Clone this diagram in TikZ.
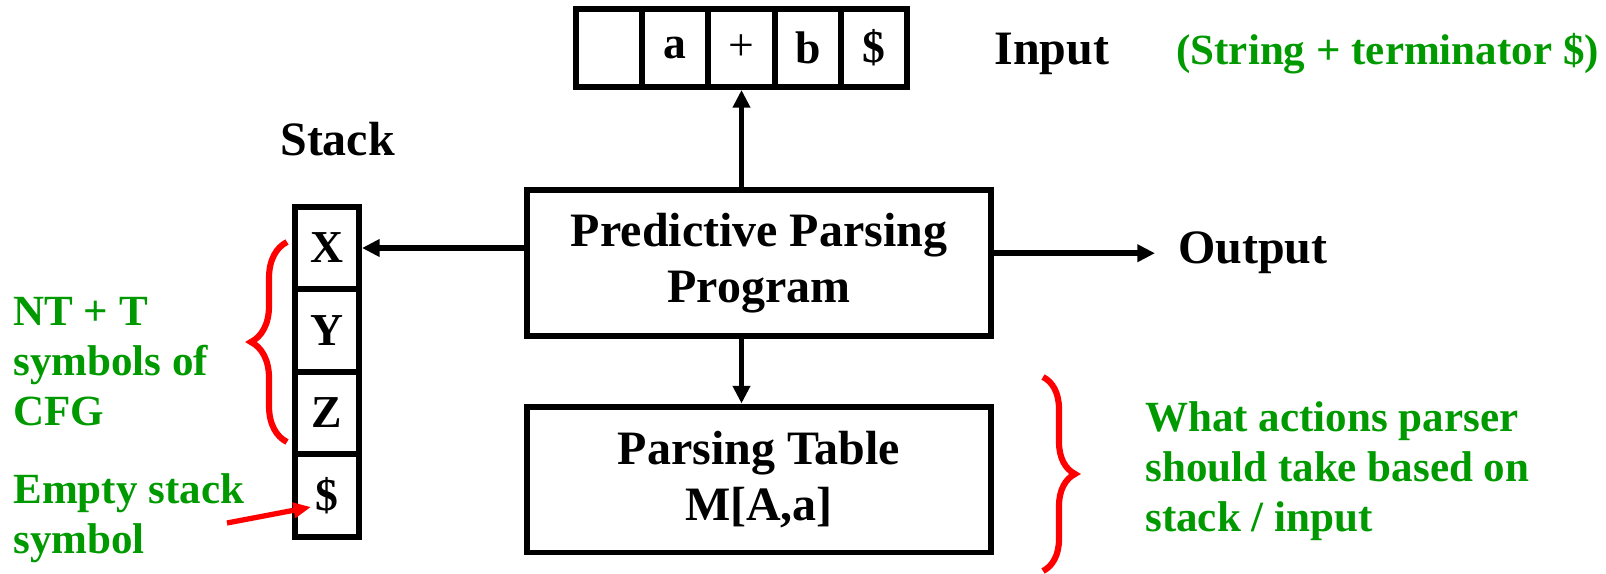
\documentclass[tikz,border=0pt]{standalone}
\usepackage{fontspec}
\setmainfont{Liberation Serif}
\usetikzlibrary{arrows.meta,positioning,decorations.pathreplacing}
\definecolor{notegreen}{RGB}{0,153,0}
\definecolor{notered}{RGB}{255,0,0}
\newcommand{\bigtext}{\fontsize{27.3}{32}\selectfont\bfseries}
\newcommand{\notetext}{\fontsize{24.5}{28.5}\selectfont\bfseries}
\newcommand{\celltext}{\fontsize{26}{30}\selectfont\bfseries}
\tikzset{
  box/.style={draw,line width=3.4pt,minimum width=9.3cm,minimum height=2.92cm,align=center,font=\bigtext},
  stackcell/.style={draw,line width=3.4pt,minimum width=1.28cm,minimum height=1.65cm,inner sep=0pt,font=\celltext},
  inputcell/.style={draw,line width=3.4pt,minimum width=1.324cm,minimum height=1.56cm,inner sep=0pt,font=\celltext},
  title/.style={font=\bigtext,inner sep=0pt},
  note/.style={font=\notetext,text=notegreen,align=left,inner sep=0pt},
  flow/.style={line width=3.4pt,-{Triangle[length=10pt,width=9.5pt]}},
  pointer/.style={line width=3pt,notered,-{Triangle[length=10pt,width=8.5pt]}},
  curly/.style={line width=3.5pt,notered,decorate,decoration={brace,amplitude=#1}},
}

\begin{document}
\begin{tikzpicture}[x=0.02cm,y=-0.02cm]
	\useasboundingbox (0,0) rectangle (1606,574);
	\foreach \sym [count=\i] in {{},a,{\mdseries+},b,\$}
		\node[inputcell] (in\i) at ({609.1+66.2*(\i-1)},48) {\sym};
	\node[stackcell] (sx) at (327,248) {X};
	\node[stackcell] (sy) at (327,330.5) {Y};
	\node[stackcell] (sz) at (327,413) {Z};
	\node[stackcell] (sd) at (327,495.5) {\$};
	\node[box] (prog) at (759,263) {Predictive Parsing\\Program};
	\node[box] (tab) at (759,479.5) {Parsing Table\\{M[A,a]}};
	\node[title,anchor=base west] (stacklbl) at (280,156) {Stack};
	\node[title,anchor=base west] (inlbl) at (994,65) {Input};
	\node[title,anchor=base west] (outlbl) at (1178,264) {Output};
	\node[note,anchor=base west] (strnote) at (1176,65) {(String + terminator \$)};
	\node[note,anchor=north west] (symnote) at (13,297) {NT + T\\symbols of\\CFG};
	\node[note,anchor=north west] (emptynote) at (13,473) {Empty stack\\symbol};
	\node[note,anchor=north west] (actnote) at (1145,401) {What actions parser\\should take based on\\stack / input};
	\draw[flow] (prog.north-|in3) -- (in3.south);
	\draw[flow] (prog.south-|in3) -- (tab.north-|in3);
	\draw[flow] (prog.west|-sx) -- (sx.east);
	\draw[flow,shorten >=0.46cm] (outlbl.west-|prog.east) -- (outlbl.west);
	\coordinate (emptytail) at (227,523);
	\coordinate (emptytip) at (311,507);
	\draw[pointer] (emptytail) -- (emptytip);
	\draw[curly=0.72cm] (287,442) -- (287,242);
	\draw[curly=0.64cm] (1043,377) -- (1043,571);
\end{tikzpicture}
\end{document}
